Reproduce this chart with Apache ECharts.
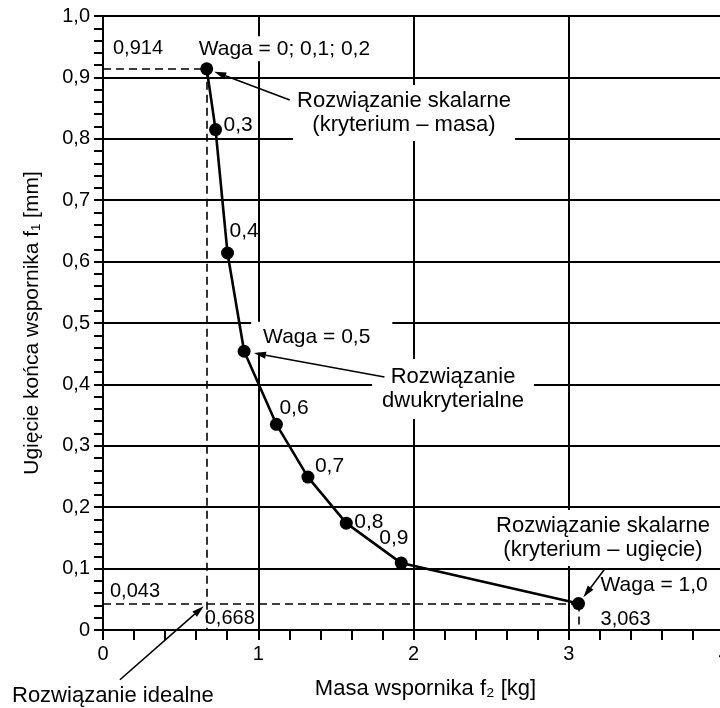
<!DOCTYPE html>
<html><head><meta charset="utf-8">
<script src="https://cdn.jsdelivr.net/npm/echarts@6/dist/echarts.min.js"></script>
<style>html,body{margin:0;padding:0;background:#fff}#c{width:720px;height:708px}</style>
</head><body><div id="c"></div>
<script>
// ---- data ----
const weightLabels = ['Waga = 0; 0,1; 0,2', '0,3', '0,4', 'Waga = 0,5', '0,6', '0,7', '0,8', '0,9', 'Waga = 1,0'];
const massF2 = [0.668, 0.725, 0.802, 0.909, 1.117, 1.320, 1.567, 1.921, 3.063];
const deflF1 = [0.914, 0.815, 0.614, 0.454, 0.335, 0.249, 0.174, 0.109, 0.043];
const xTickLabels = ['0', '1', '2', '3', '4'];
const yTickLabels = ['0', '0,1', '0,2', '0,3', '0,4', '0,5', '0,6', '0,7', '0,8', '0,9', '1,0'];
const xAxisName = 'Masa wspornika f\u2082 [kg]';
const yAxisName = 'Ugięcie końca wspornika f\u2081 [mm]';

// ---- layout (not data) ----
const FONT = '"Liberation Sans", Arial, Helvetica, sans-serif';
const labelOffsets = [[-8,-20],[8,-4],[2,-22],[19,-14],[3,-16],[7,-11],[8,-1],[-22,-25],[22,-18]];
const labelPads = {0:[2,6,2,6], 3:[5,22,5,12]};
const SYM = 13;

const chart = echarts.init(document.getElementById('c'), null, {renderer:'canvas'});

const last = massF2.length - 1;
const seriesData = massF2.map((x, i) => {
  const pad = labelPads[i] || [0,0,0,0];
  const off = labelOffsets[i];
  return {
    value: [x, deflF1[i]],
    label: {
      show: true, position: 'right', distance: 0,
      formatter: weightLabels[i],
      offset: [off[0] - SYM/2 - pad[3], off[1]],
      align: 'left', verticalAlign: 'middle',
      backgroundColor: labelPads[i] ? '#fff' : 'transparent',
      padding: pad,
      color: '#000', fontSize: 21, fontFamily: FONT
    }
  };
});

const dash = {color:'#000', width:1.6, type:[8,5]};
const option = {
  animation: false,
  backgroundColor: '#fff',
  grid: {left: 103, top: 16, width: 621, height: 614, containLabel: false, outerBoundsMode: 'none'},
  xAxis: {
    type: 'value', min: 0, max: 4, interval: 1,
    name: xAxisName, nameLocation: 'middle', nameGap: 48,
    nameTextStyle: {color:'#000', fontSize: 22, fontFamily: FONT, padding:[0,0,0,24]},
    axisLine: {show: true, onZero: false, lineStyle: {color:'#000', width: 2}},
    axisTick: {show: true, length: 10, lineStyle: {color:'#000', width: 2}},
    minorTick: {show: true, splitNumber: 5, length: 10, lineStyle: {color:'#000', width: 2}},
    splitLine: {show: true, lineStyle: {color:'#000', width: 2}},
    axisLabel: {color:'#000', fontSize: 20, fontFamily: FONT, margin: 14, showMaxLabel: true, showMinLabel: true,
      formatter: v => xTickLabels[Math.round(v)]}
  },
  yAxis: {
    type: 'value', min: 0, max: 1, interval: 0.1,
    name: yAxisName, nameLocation: 'middle', nameGap: 60,
    nameTextStyle: {color:'#000', fontSize: 21, fontFamily: FONT},
    axisLine: {show: true, onZero: false, lineStyle: {color:'#000', width: 2}},
    axisTick: {show: true, length: 9, lineStyle: {color:'#000', width: 2}},
    minorTick: {show: true, splitNumber: 5, length: 9, lineStyle: {color:'#000', width: 2}},
    splitLine: {show: true, lineStyle: {color:'#000', width: 2}},
    axisLabel: {color:'#000', fontSize: 20, fontFamily: FONT, margin: 13,
      formatter: v => yTickLabels[Math.round(v * 10)]}
  },
  series: [{
    type: 'line', data: seriesData,
    symbol: 'circle', symbolSize: SYM, showAllSymbol: true,
    lineStyle: {color:'#000', width: 2.6},
    itemStyle: {color:'#000'},
    z: 5,
    markLine: {
      silent: true, symbol: ['none','none'], label: {show: false},
      lineStyle: dash, animation: false,
      data: [
        [{coord:[0, deflF1[0]]}, {coord:[massF2[0], deflF1[0]]}],
        [{coord:[massF2[0], deflF1[0]]}, {coord:[massF2[0], 0]}],
        [{coord:[0, deflF1[last]]}, {coord:[massF2[last], deflF1[last]]}],
        [{coord:[massF2[last], deflF1[last]]}, {coord:[massF2[last], 0]}]
      ]
    }
  }]
};
chart.setOption(option);

// ---- annotations ----
const P = p => chart.convertToPixel({gridIndex: 0}, p);
const fmt3 = v => v.toFixed(3).replace('.', ',');
const textStyleBase = {fill:'#000', font: '20px ' + FONT};

const numLabels = [
  {text: fmt3(deflF1[0]), at: [0, deflF1[0]], off: [10, -20]},
  {text: fmt3(deflF1[last]), at: [0, deflF1[last]], off: [7, -12]},
  {text: fmt3(massF2[0]), at: [massF2[0], 0], off: [-2, -12]},
  {text: fmt3(massF2[last]), at: [massF2[last], 0], off: [22, -11]}
];
const graphics = [];
numLabels.forEach(l => {
  const p = P(l.at);
  graphics.push({type:'text', z: 20, style: Object.assign({}, textStyleBase, {
    text: l.text, x: p[0] + l.off[0], y: p[1] + l.off[1], align:'left', verticalAlign:'middle', font: '20px ' + FONT})});
});

const notes = [
  {text: 'Rozwiązanie skalarne\n(kryterium – masa)', x: 404, y: 113, pad: [4, 4]},
  {text: 'Rozwiązanie\ndwukryterialne', x: 453, y: 389, pad: [6, 10]},
  {text: 'Rozwiązanie skalarne\n(kryterium – ugięcie)', x: 603, y: 538, pad: [4, 4]}
];
notes.forEach(n => {
  graphics.push({type:'text', z: 20, style: Object.assign({}, textStyleBase, {
    text: n.text, x: n.x, y: n.y, align:'center', verticalAlign:'middle',
    lineHeight: 24, backgroundColor:'#fff', padding: n.pad, font: '22px ' + FONT})});
});
graphics.push({type:'text', z: 20, style: Object.assign({}, textStyleBase, {
  text: 'Rozwiązanie idealne', x: 12, y: 696, align:'left', verticalAlign:'middle', font: '22px ' + FONT})});

// arrows: tail (data coords) -> target point (data coords) with a gap in px
const arrows = [
  {from: [1.203, 0.863], to: [massF2[0], deflF1[0]], gap: 8},
  {from: [1.813, 0.412], to: [massF2[3], deflF1[3]], gap: 10},
  {from: [3.228, 0.098], to: [massF2[last], deflF1[last]], gap: 8},
  {from: [0.109, -0.081], to: [massF2[0], deflF1[last]], gap: 4}
];
arrows.forEach(a => {
  const t = P(a.from), h = P(a.to);
  let dx = t[0] - h[0], dy = t[1] - h[1];
  const len = Math.hypot(dx, dy); dx /= len; dy /= len;
  const tip = [h[0] + dx * a.gap, h[1] + dy * a.gap];
  const hl = 12, hw = 3.5;
  const base = [tip[0] + dx * hl, tip[1] + dy * hl];
  const nx = -dy, ny = dx;
  graphics.push({type:'line', z: 30, shape:{x1: t[0], y1: t[1], x2: base[0], y2: base[1]},
    style:{stroke:'#000', lineWidth: 1.6}});
  graphics.push({type:'polygon', z: 30, shape:{points:[tip, [base[0]+nx*hw, base[1]+ny*hw], [base[0]-nx*hw, base[1]-ny*hw]]},
    style:{fill:'#000'}});
});
chart.setOption({graphic: graphics});
</script>
</body></html>
